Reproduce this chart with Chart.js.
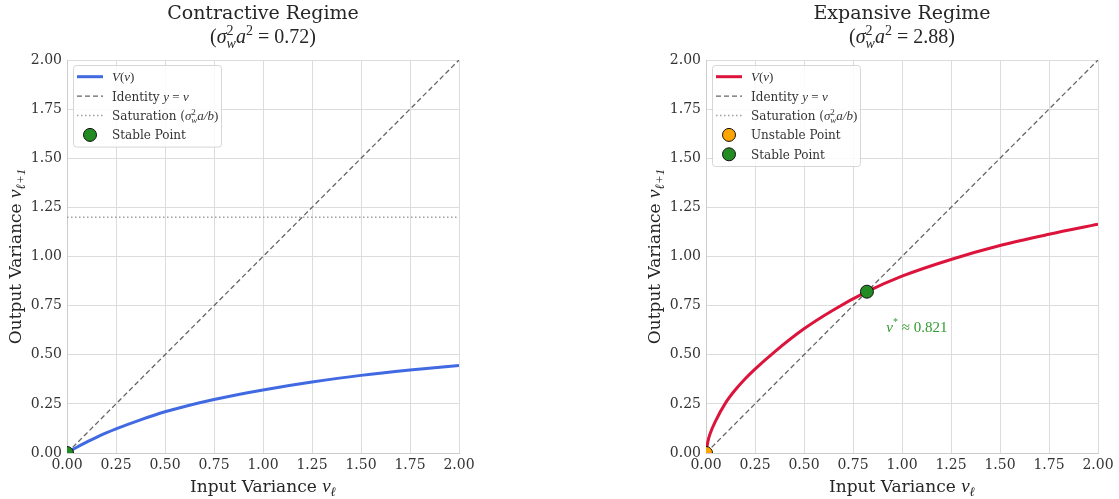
<!DOCTYPE html>
<html><head><meta charset="utf-8">
<script src="https://cdn.jsdelivr.net/npm/chart.js@4.4.0/dist/chart.umd.min.js"></script>
<style>
html,body{margin:0;padding:0;background:#fff;width:1119px;height:499px;overflow:hidden;}
.wrap{position:absolute;top:0;width:480px;height:499px;}
</style></head><body>
<div class="wrap" style="left:0"><canvas id="c1" width="480" height="499"></canvas></div>
<div class="wrap" style="left:639px"><canvas id="c2" width="480" height="499"></canvas></div>
<script>
// ---- data ----
const tickLabels = ['0.00','0.25','0.50','0.75','1.00','1.25','1.50','1.75','2.00'];
const identityX = [0, 2];
const identityY = [0, 2];
const leftCurveX = [0, 0.05, 0.1, 0.15, 0.2, 0.25, 0.375, 0.5, 0.625, 0.75, 0.875, 1.0, 1.25, 1.5, 1.75, 2.0];
const leftCurveY = [0, 0.029, 0.055, 0.079, 0.102, 0.123, 0.169, 0.21, 0.243, 0.272, 0.298, 0.321, 0.361, 0.395, 0.422, 0.445];
const leftSaturation = 1.2;
const leftStableX = [0];
const leftStableY = [0];
const rightCurveX = [0, 0.01, 0.02, 0.05, 0.1, 0.15, 0.2, 0.25, 0.35, 0.5, 0.65, 0.821, 1.0, 1.25, 1.5, 1.75, 2.0];
const rightCurveY = [0, 0.06, 0.095, 0.165, 0.255, 0.322, 0.378, 0.427, 0.515, 0.632, 0.728, 0.821, 0.9, 0.985, 1.056, 1.113, 1.164];
const rightSaturation = 4.8;
const rightUnstableX = [0];
const rightUnstableY = [0];
const rightStableX = [0.821];
const rightStableY = [0.821];
const leftGain = '0.72';
const rightGain = '2.88';
const fixedPointLabel = '0.821';

// ---- helpers ----
const SERIF = "'DejaVu Serif', serif";
const MATH = "'Liberation Serif', serif";
const pts = (xs, ys) => xs.map((x, i) => ({x, y: ys[i]}));
function fnt(s){ return (s.i ? 'italic ' : '') + s.z + 'px ' + (s.f || SERIF); }
function segW(ctx, s){
  if (s.stack){ let m = 0; for (const p of s.stack){ ctx.font = fnt(p); m = Math.max(m, ctx.measureText(p.t).width); } return m; }
  ctx.font = fnt(s); return ctx.measureText(s.t).width;
}
function richWidth(ctx, segs){ return segs.reduce((a, s) => a + segW(ctx, s), 0); }
function drawRich(ctx, segs, x, y, align, color){
  const w = richWidth(ctx, segs);
  let cx = align === 'center' ? x - w/2 : (align === 'right' ? x - w : x);
  ctx.textBaseline = 'alphabetic'; ctx.textAlign = 'left';
  for (const s of segs){
    if (s.stack){
      for (const p of s.stack){ ctx.font = fnt(p); ctx.fillStyle = p.c || color; ctx.fillText(p.t, cx, y + (p.dy || 0)); }
    } else { ctx.font = fnt(s); ctx.fillStyle = s.c || color; ctx.fillText(s.t, cx, y + (s.dy || 0)); }
    cx += segW(ctx, s);
  }
}
const sigW = (z) => [{t:'σ', i:1, z, f:MATH}, {stack:[{t:'2', z:Math.round(z*0.68), f:MATH, dy:-Math.round(z*0.38)}, {t:'w', i:1, z:Math.round(z*0.68), f:MATH, dy:Math.round(z*0.25)}]}];

function legendLabels(){
  return {
    curve: [{t:'V', i:1, z:13, f:MATH}, {t:'(', z:13, f:MATH}, {t:'v', i:1, z:13, f:MATH}, {t:')', z:13, f:MATH}],
    identity: [{t:'Identity ', z:12}, {t:'y', i:1, z:13, f:MATH}, {t:' = ', z:13, f:MATH}, {t:'v', i:1, z:13, f:MATH}],
    saturation: [{t:'Saturation (', z:12}, ...sigW(13), {t:'a/b', i:1, z:13, f:MATH}, {t:')', z:13, f:MATH}],
    unstable: [{t:'Unstable Point', z:12}],
    stable: [{t:'Stable Point', z:12}]
  };
}

function makePlugin(cfg){
  return {
    id: 'decor',
    afterDatasetsDraw(chart){
      const ctx = chart.ctx, a = chart.chartArea;
      const xs = chart.scales.x, ys = chart.scales.y;
      ctx.save();
      if (cfg.annotation){
        const px = xs.getPixelForValue(cfg.annotation.x), py = ys.getPixelForValue(cfg.annotation.y);
        drawRich(ctx, [{t:'v', i:1, z:15, f:MATH}, {t:'*', z:10, f:MATH, dy:-7}, {t:' ≈ ' + fixedPointLabel, z:15, f:MATH}], px, py + 5, 'left', '#2f9a2f');
      }
      const items = cfg.legend;
      const bx = a.left + 6, by = a.top + 5, bw = 148, rowH = 19.4, bh = items.length * rowH + 4;
      ctx.beginPath();
      if (ctx.roundRect) ctx.roundRect(bx + 0.5, by + 0.5, bw, bh, 3); else ctx.rect(bx + 0.5, by + 0.5, bw, bh);
      ctx.fillStyle = 'rgba(255,255,255,0.85)'; ctx.fill();
      ctx.strokeStyle = '#d6d6d6'; ctx.lineWidth = 1; ctx.stroke();
      items.forEach((it, k) => {
        const cy = by + 2 + rowH * k + rowH / 2;
        const ds = chart.data.datasets[it.ds];
        if (it.kind === 'line'){
          ctx.beginPath(); ctx.setLineDash(ds.borderDash || []);
          ctx.strokeStyle = ds.borderColor; ctx.lineWidth = ds.borderWidth;
          ctx.moveTo(bx + 4, cy); ctx.lineTo(bx + 30, cy); ctx.stroke(); ctx.setLineDash([]);
        } else {
          ctx.beginPath(); ctx.arc(bx + 17, cy, ds.pointRadius, 0, Math.PI * 2);
          ctx.fillStyle = ds.backgroundColor; ctx.fill();
          ctx.strokeStyle = ds.borderColor; ctx.lineWidth = ds.pointBorderWidth; ctx.stroke();
        }
        drawRich(ctx, it.label, bx + 39, cy + 4.5, 'left', '#333');
      });
      ctx.restore();
    },
    afterDraw(chart){
      const ctx = chart.ctx, a = chart.chartArea;
      const cx = (a.left + a.right) / 2, cy = (a.top + a.bottom) / 2;
      ctx.save();
      drawRich(ctx, [{t: cfg.title, z:19}], cx, 19, 'center', '#262626');
      drawRich(ctx, [{t:'(', z:20, f:MATH}, ...sigW(20), {t:'a', i:1, z:20, f:MATH}, {t:'2', z:14, f:MATH, dy:-8}, {t:' = ' + cfg.gain + ')', z:20, f:MATH}], cx, 43, 'center', '#262626');
      drawRich(ctx, [{t:'Input Variance ', z:17}, {t:'v', i:1, z:19, f:MATH}, {t:'ℓ', i:1, z:13, f:MATH, dy:4}], cx, 492, 'center', '#262626');
      ctx.translate(21, cy); ctx.rotate(-Math.PI / 2);
      drawRich(ctx, [{t:'Output Variance ', z:17}, {t:'v', i:1, z:19, f:MATH}, {t:'ℓ+1', i:1, z:13, f:MATH, dy:4}], 0, 0, 'center', '#262626');
      ctx.restore();
    }
  };
}

function axis(){
  const common = {
    type: 'linear', min: 0, max: 2,
    grid: {color: '#dcdcdc', lineWidth: 1, drawTicks: false},
    border: {display: true, color: '#cccccc', width: 1},
    ticks: {stepSize: 0.25, color: '#333', font: {family: SERIF, size: 14}, callback: (v, i) => tickLabels[i], autoSkip: false, maxRotation: 0},
    title: {display: false}
  };
  return {
    x: {...common, ticks: {...common.ticks, padding: 4}, afterFit: s => { s.height = 46; }},
    y: {...common, ticks: {...common.ticks, padding: 5}, afterFit: s => { s.width = 67; }}
  };
}

function curveDs(xs, ys, color){ return {type:'line', data: pts(xs, ys), borderColor: color, backgroundColor: color, borderWidth: 3, pointRadius: 0, cubicInterpolationMode: 'monotone', fill: false, order: 2}; }
function identityDs(){ return {type:'line', data: pts(identityX, identityY), borderColor: '#666666', borderWidth: 1.3, borderDash: [5, 3], pointRadius: 0, fill: false, order: 3}; }
function satDs(v){ return {type:'line', data: pts(identityX, [v, v]), borderColor: '#a0a0a0', borderWidth: 1.5, borderDash: [1.5, 2.5], pointRadius: 0, fill: false, order: 4}; }
function pointDs(xs, ys, color){ return {type:'line', showLine: false, data: pts(xs, ys), backgroundColor: color, borderColor: '#111', pointBackgroundColor: color, pointBorderColor: '#111', pointRadius: 6.5, pointBorderWidth: 1, pointHoverRadius: 6.5, clip: 0, order: 0}; }

function build(id, datasets, cfg){
  return new Chart(document.getElementById(id), {
    type: 'line',
    data: {datasets},
    options: {
      responsive: false, animation: false, devicePixelRatio: 1,
      layout: {padding: {left: 0, top: 60, right: 21, bottom: 0}},
      plugins: {legend: {display: false}, title: {display: false}, tooltip: {enabled: false}},
      scales: axis(),
      elements: {line: {tension: 0}}
    },
    plugins: [makePlugin(cfg)]
  });
}

const L1 = legendLabels();
build('c1', [
  curveDs(leftCurveX, leftCurveY, '#4169e1'),
  identityDs(),
  satDs(leftSaturation),
  pointDs(leftStableX, leftStableY, '#228b22')
], {
  title: 'Contractive Regime', gain: leftGain,
  legend: [
    {ds:0, kind:'line', label: L1.curve},
    {ds:1, kind:'line', label: L1.identity},
    {ds:2, kind:'line', label: L1.saturation},
    {ds:3, kind:'point', label: L1.stable}
  ]
});

build('c2', [
  curveDs(rightCurveX, rightCurveY, '#dc143c'),
  identityDs(),
  satDs(rightSaturation),
  pointDs(rightUnstableX, rightUnstableY, '#ffa500'),
  pointDs(rightStableX, rightStableY, '#228b22')
], {
  title: 'Expansive Regime', gain: rightGain,
  annotation: {x: 0.92, y: 0.64},
  legend: [
    {ds:0, kind:'line', label: L1.curve},
    {ds:1, kind:'line', label: L1.identity},
    {ds:2, kind:'line', label: L1.saturation},
    {ds:3, kind:'point', label: L1.unstable},
    {ds:4, kind:'point', label: L1.stable}
  ]
});
</script>
</body></html>
